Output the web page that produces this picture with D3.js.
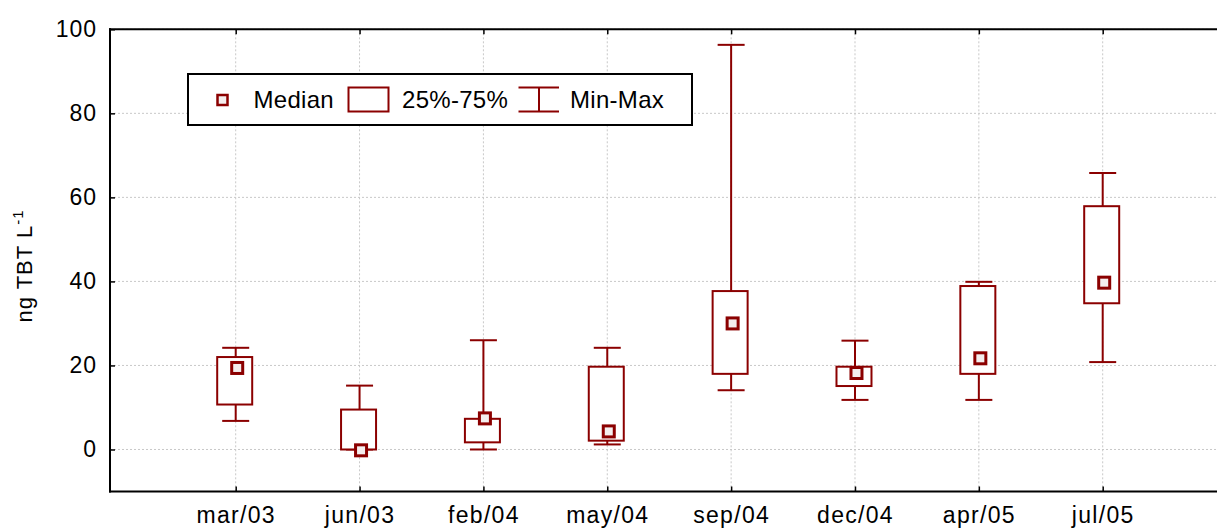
<!DOCTYPE html>
<html>
<head>
<meta charset="utf-8">
<script src="https://cdn.jsdelivr.net/npm/d3@7"></script>
<style>
  html, body { margin: 0; padding: 0; background: #fff; }
  svg { display: block; font-family: "Liberation Sans", Arial, sans-serif; }
</style>
</head>
<body>
<svg id="chart" width="1217" height="529"></svg>
<script>
const categories = ["mar/03", "jun/03", "feb/04", "may/04", "sep/04", "dec/04", "apr/05", "jul/05"];
const mins    = [6.8, 0.0, 0.0, 1.2, 14.1, 11.8, 11.8, 20.8];
const q1s     = [10.7, 0.0, 1.7, 2.1, 18.0, 15.1, 18.0, 34.8];
const medians = [19.4, -0.2, 7.4, 4.3, 30.0, 18.2, 21.7, 39.7];
const q3s     = [22.0, 9.5, 7.3, 19.7, 37.7, 19.7, 38.9, 57.9];
const maxs    = [24.2, 15.2, 26.0, 24.2, 96.3, 25.9, 39.9, 65.8];
const yTicks  = [0, 20, 40, 60, 80, 100];
const legendLabels = ["Median", "25%-75%", "Min-Max"];

(function () {
const color = "#8b0000";
const svg = d3.select("#chart");
const pLeft = 110, pRight = 1240, pTop = 29.3, pBottom = 491.5;
const FONT = "Liberation Sans, Arial, sans-serif";

const x = d3.scalePoint().domain(categories).range([235.7, 1102.7]);
const y = d3.scaleLinear().domain([-10, 100]).range([pBottom, pTop]);

// grid
const grid = svg.append("g");
grid.selectAll("line.h").data(yTicks).join("line").attr("class", "h")
  .attr("x1", pLeft).attr("x2", pRight)
  .attr("y1", d => y(d)).attr("y2", d => y(d))
  .attr("stroke", "#c8c8c8").attr("stroke-width", 1).attr("stroke-dasharray", "2,2");
grid.selectAll("line.v").data(categories).join("line").attr("class", "v")
  .attr("x1", d => x(d)).attr("x2", d => x(d))
  .attr("y1", pTop).attr("y2", pBottom)
  .attr("stroke", "#c8c8c8").attr("stroke-width", 1).attr("stroke-dasharray", "2,2");

// axes
const yAxis = d3.axisLeft(y).tickValues(yTicks).tickSize(-5).tickPadding(13);
const gy = svg.append("g").attr("transform", `translate(${pLeft},0)`).call(yAxis);
gy.select(".domain").remove();
gy.selectAll(".tick line").attr("stroke", "#000").attr("stroke-width", 1.5);
gy.selectAll(".tick text").attr("font-size", 23).attr("fill", "#000")
  .attr("letter-spacing", 1).attr("font-family", FONT);

const xAxis = d3.axisBottom(x).tickSize(-5).tickPadding(15);
const gx = svg.append("g").attr("transform", `translate(0,${pBottom})`).call(xAxis);
gx.select(".domain").remove();
gx.selectAll(".tick line").attr("stroke", "#000").attr("stroke-width", 1.5);
gx.selectAll(".tick text").attr("font-size", 23).attr("fill", "#000").attr("dy", "0.71em")
  .attr("letter-spacing", 1.3).attr("font-family", FONT);

const xTop = d3.axisTop(x).tickSize(-5).tickFormat("");
const gxt = svg.append("g").attr("transform", `translate(0,${pTop})`).call(xTop);
gxt.select(".domain").remove();
gxt.selectAll(".tick line").attr("stroke", "#000").attr("stroke-width", 1.5);

// frame
svg.append("line").attr("x1", pLeft).attr("x2", pLeft).attr("y1", pTop - 1).attr("y2", pBottom + 1)
  .attr("stroke", "#000").attr("stroke-width", 2);
svg.append("line").attr("x1", pLeft - 1).attr("x2", pRight).attr("y1", pTop).attr("y2", pTop)
  .attr("stroke", "#000").attr("stroke-width", 2);
svg.append("line").attr("x1", pLeft - 1).attr("x2", pRight).attr("y1", pBottom).attr("y2", pBottom)
  .attr("stroke", "#000").attr("stroke-width", 2);

// y title
const yt = svg.append("text")
  .attr("transform", `translate(32,266) rotate(-90)`)
  .attr("text-anchor", "middle").attr("font-size", 22).attr("letter-spacing", 1)
  .attr("fill", "#000").attr("font-family", FONT);
yt.append("tspan").text("ng TBT L");
yt.append("tspan").attr("font-size", 15).attr("dy", -9).text("-1");

// boxes
const data = categories.map((c, i) => ({c, min: mins[i], q1: q1s[i], med: medians[i], q3: q3s[i], max: maxs[i]}));
const boxW = 35, capW = 27, mk = 11;
const g = svg.append("g");
const b = g.selectAll("g.box").data(data).join("g").attr("class", "box");
b.append("line").attr("x1", d => x(d.c)).attr("x2", d => x(d.c))
  .attr("y1", d => y(d.max)).attr("y2", d => y(d.q3)).attr("stroke", color).attr("stroke-width", 2);
b.append("line").attr("x1", d => x(d.c)).attr("x2", d => x(d.c))
  .attr("y1", d => y(d.q1)).attr("y2", d => y(d.min)).attr("stroke", color).attr("stroke-width", 2);
b.append("line").attr("x1", d => x(d.c) - capW / 2).attr("x2", d => x(d.c) + capW / 2)
  .attr("y1", d => y(d.max)).attr("y2", d => y(d.max)).attr("stroke", color).attr("stroke-width", 2);
b.append("line").attr("x1", d => x(d.c) - capW / 2).attr("x2", d => x(d.c) + capW / 2)
  .attr("y1", d => y(d.min)).attr("y2", d => y(d.min)).attr("stroke", color).attr("stroke-width", 2);
b.append("rect").attr("x", d => x(d.c) - boxW / 2 - 1).attr("width", boxW)
  .attr("y", d => y(d.q3)).attr("height", d => Math.max(0, y(d.q1) - y(d.q3)))
  .attr("fill", "#fff").attr("stroke", color).attr("stroke-width", 2);
b.append("rect").attr("x", d => x(d.c) + 1.5 - mk / 2).attr("width", mk)
  .attr("y", d => y(d.med) - mk / 2).attr("height", mk)
  .attr("fill", "#f4eeee").attr("stroke", color).attr("stroke-width", 3);

// legend
const lg = svg.append("g");
lg.append("rect").attr("x", 188).attr("y", 74).attr("width", 504).attr("height", 51)
  .attr("fill", "#fff").attr("stroke", "#000").attr("stroke-width", 2);
const ly = 100;
lg.append("rect").attr("x", 222.5 - 5).attr("y", ly - 5).attr("width", 10).attr("height", 10)
  .attr("fill", "#f4eeee").attr("stroke", color).attr("stroke-width", 2.5);
lg.append("rect").attr("x", 348.5).attr("y", 87.5).attr("width", 40).attr("height", 24)
  .attr("fill", "#fff").attr("stroke", color).attr("stroke-width", 2);
lg.append("line").attr("x1", 518.5).attr("x2", 559).attr("y1", 87.5).attr("y2", 87.5).attr("stroke", color).attr("stroke-width", 2);
lg.append("line").attr("x1", 518.5).attr("x2", 559).attr("y1", 111.5).attr("y2", 111.5).attr("stroke", color).attr("stroke-width", 2);
lg.append("line").attr("x1", 539).attr("x2", 539).attr("y1", 87.5).attr("y2", 111.5).attr("stroke", color).attr("stroke-width", 2);
const lx = [253.5, 402, 570];
lg.selectAll("text").data(legendLabels).join("text")
  .attr("x", (d, i) => lx[i]).attr("y", 107.5)
  .attr("font-size", 24).attr("letter-spacing", 0.3).attr("font-family", FONT)
  .attr("fill", "#000").text(d => d);
})();
</script>
</body>
</html>
